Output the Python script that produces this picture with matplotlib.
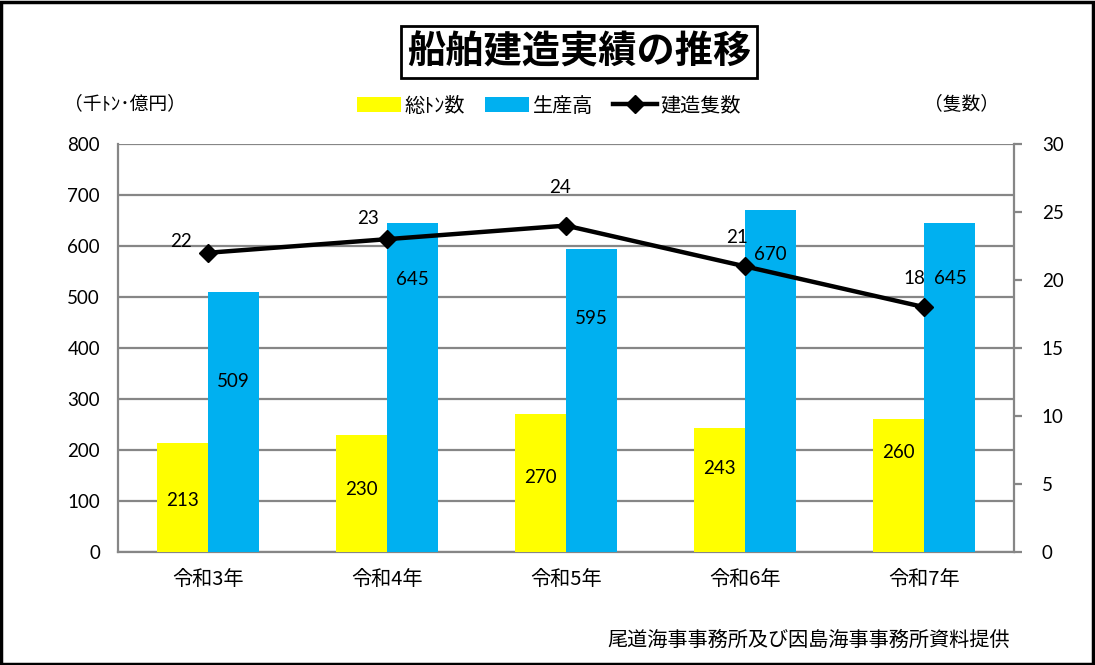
import matplotlib
matplotlib.use("Agg")
import matplotlib.pyplot as plt
from matplotlib.patches import Rectangle, Patch
from matplotlib.lines import Line2D

categories = ["令和3年", "令和4年", "令和5年", "令和6年", "令和7年"]
tonnage = [213, 230, 270, 243, 260]       # 総ﾄﾝ数 (千ﾄﾝ)
production = [509, 645, 595, 670, 645]    # 生産高 (億円)
ships = [22, 23, 24, 21, 18]              # 建造隻数

left_ticks = [0, 100, 200, 300, 400, 500, 600, 700, 800]
right_ticks = [0, 5, 10, 15, 20, 25, 30]

# label offsets (pixels) as placed in the reference
ton_label_dy = [-57, -55, -63, -40, -33]
prod_label_dy = [-89, -56, -70, -44, -55]
ship_label_off = [(-27, 11), (-19, 21), (-6, 38), (-8, 29), (-10, 29)]

JP = ["Noto Sans CJK JP", "DejaVu Sans"]
NUM = ["Lato", "DejaVu Sans"]
YELLOW = "#FFFF00"
BLUE = "#00B0F0"
GRID = "#868686"

fig = plt.figure(figsize=(10.95, 6.65), dpi=100)
fig.patches.append(Rectangle((0.001, 0.002), 0.997, 0.995, transform=fig.transFigure,
                             fill=False, edgecolor="black", linewidth=2.5, zorder=10))

ax = fig.add_axes([118/1095, 1-552/665, (1014-118)/1095, (552-144)/665])
ax2 = ax.twinx()

x = list(range(len(categories)))
w = 0.285
ax.bar([i - w/2 for i in x], tonnage, width=w, color=YELLOW, zorder=3)
ax.bar([i + w/2 for i in x], production, width=w, color=BLUE, zorder=3)

ax.set_xlim(-0.5, len(categories) - 0.5)
ax.set_ylim(0, 800)
ax.set_yticks(left_ticks)
ax.set_yticklabels([str(t) for t in left_ticks], fontfamily=NUM, fontsize=13.5)
ax.tick_params(axis="y", length=0, pad=13)
ax.set_xticks(x)
ax.set_xticklabels(categories, fontfamily=JP, fontsize=14.5)
ax.tick_params(axis="x", length=0, pad=12)
ax.yaxis.grid(True, color=GRID, linewidth=1.6, zorder=0)
ax.set_axisbelow(True)
for s in ["top", "right"]:
    ax.spines[s].set_visible(False)
ax.spines["left"].set_color(GRID)
ax.spines["left"].set_linewidth(1.6)
ax.spines["bottom"].set_color(GRID)
ax.spines["bottom"].set_linewidth(1.6)

ax2.set_ylim(0, 30)
ax2.set_yticks(right_ticks)
ax2.set_yticklabels([str(t) for t in right_ticks], fontfamily=NUM, fontsize=13.5)
ax2.tick_params(axis="y", length=6, width=1.6, color=GRID, pad=14)
for s in ["top", "left", "bottom"]:
    ax2.spines[s].set_visible(False)
ax2.spines["right"].set_color(GRID)
ax2.spines["right"].set_linewidth(1.6)

ax2.plot(x, ships, color="black", linewidth=3.2, marker="D", markersize=9,
         markerfacecolor="black", zorder=5)

for i, v in enumerate(tonnage):
    ax.annotate(str(v), (i - w/2, v), xytext=(0, ton_label_dy[i]), textcoords="offset pixels",
                ha="center", va="center", fontfamily=NUM, fontsize=13.5, zorder=6)
for i, v in enumerate(production):
    ax.annotate(str(v), (i + w/2, v), xytext=(0, prod_label_dy[i]), textcoords="offset pixels",
                ha="center", va="center", fontfamily=NUM, fontsize=13.5, zorder=6)
for i, v in enumerate(ships):
    dx, dy = ship_label_off[i]
    ax2.annotate(str(v), (i, v), xytext=(dx, dy), textcoords="offset pixels",
                 ha="center", va="center", fontfamily=NUM, fontsize=13.5, zorder=6)

# title
fig.text(579/1095, 1-52/665, "船舶建造実績の推移", fontfamily=JP, fontsize=27.5, fontweight="bold",
         ha="center", va="center",
         bbox=dict(boxstyle="square,pad=0.16", facecolor="white", edgecolor="black", linewidth=2))

# axis unit labels
fig.text(64/1095, 1-104/665, "（千ﾄﾝ･億円）", fontfamily=JP, fontsize=13.5, ha="left", va="center")
fig.text(999/1095, 1-104/665, "（隻数）", fontfamily=JP, fontsize=13.5, ha="right", va="center")

# legend
handles = [Patch(facecolor=YELLOW, edgecolor="none"),
           Patch(facecolor=BLUE, edgecolor="none"),
           Line2D([0], [0], color="black", linewidth=3.2, marker="D", markersize=9)]
labels = ["総ﾄﾝ数", "生産高", "建造隻数"]
fig.legend(handles, labels, loc="center", bbox_to_anchor=(549/1095, 1-106/665), ncol=3,
           frameon=False, prop={"family": JP, "size": 14.5}, handlelength=2.2, handleheight=0.8,
           handletextpad=0.15, columnspacing=1.0)

# source
fig.text(1010/1095, 1-640/665, "尾道海事事務所及び因島海事事務所資料提供", fontfamily=JP, fontsize=14.5,
         ha="right", va="center")

fig.savefig("out.png", dpi=100)
